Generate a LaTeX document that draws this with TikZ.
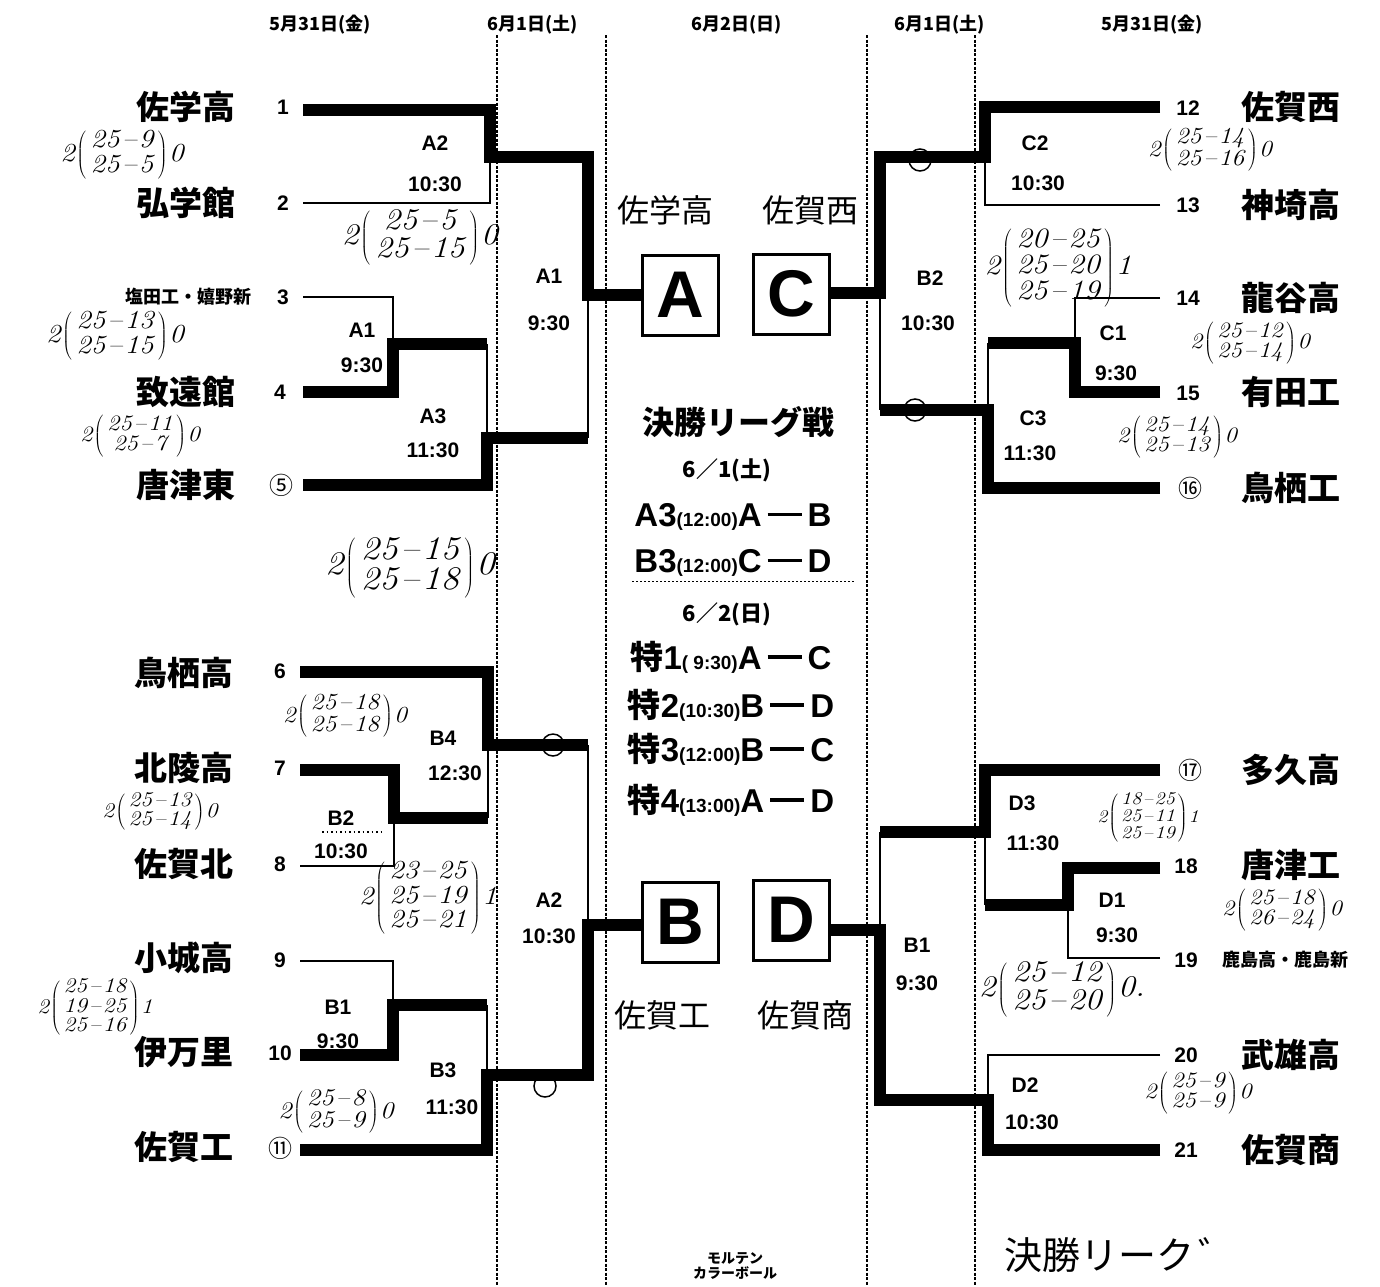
\documentclass[tikz,border=0pt]{standalone}
\usepackage{fontspec}
\newfontfamily\jp{Noto Sans CJK JP}
\newfontfamily\sans{Liberation Sans}
\newcommand\scorenote[3]{\scalebox{1.12}[1]{#1\hspace{0.05em}$\left(\begin{tabular}{@{\hspace{0.15em}}c@{\hspace{0.15em}}}#2\end{tabular}\right)$\hspace{0.05em}#3}}
\newcommand\sdash{\hspace{0.08em}--\hspace{0.08em}}
\newcommand\bigdash{\hspace{6pt}\rule[0.32em]{34pt}{3.5pt}\hspace{6pt}}
\renewcommand\arraystretch{0.9}
\tikzset{
 thinl/.style={line width=2.5pt},
 thickl/.style={line width=12pt},
 dashl/.style={line width=1.8pt, dash pattern=on 3pt off 1.5pt},
 team/.style={font=\jp\bfseries\fontsize{33}{33}\selectfont, inner sep=0pt},
 smallteam/.style={font=\jp\bfseries\fontsize{18}{18}\selectfont, inner sep=0pt},
 num/.style={font=\sans\bfseries\fontsize{21}{21}\selectfont, inner sep=0pt},
 cnum/.style={font=\jp\fontsize{24}{24}\selectfont, inner sep=0pt},
 lab/.style={font=\sans\bfseries\fontsize{21}{21}\selectfont, inner sep=0pt},
 hdr/.style={font=\jp\bfseries\fontsize{18}{18}\selectfont, inner sep=0pt},
 hand/.style={font=\itshape\fontsize{#1}{#1}\selectfont, inner sep=0pt},
 handjp/.style={font=\jp\fontsize{#1}{#1}\selectfont, inner sep=0pt},
 letterbox/.style={draw, line width=3pt, minimum width=76pt, minimum height=80pt, inner sep=0pt, font=\sans\bfseries\fontsize{66}{66}\selectfont},
 sched/.style={font=\sans\bfseries\fontsize{33}{33}\selectfont, inner sep=0pt},
 ttl/.style={font=\jp\bfseries\fontsize{32}{32}\selectfont, inner sep=0pt},
 ringmark/.style={line width=1.5pt},
}
\begin{document}
\begin{tikzpicture}[x=1pt,y=-1pt]
\useasboundingbox[fill=white] (0,0) rectangle (1380,1286);
% dashed day separators
\draw[dashl] (497,35) -- (497,1286);
\draw[dashl] (606,35) -- (606,1286);
\draw[dashl] (867,35) -- (867,1286);
\draw[dashl] (975,35) -- (975,1286);
% headers
\node[hdr] (h1) at (320,25) {5月31日(金)};
\node[hdr] (h2) at (533,25) {6月1日(土)};
\node[hdr] (h3) at (737,25) {6月2日(日)};
\node[hdr] (h4) at (940,25) {6月1日(土)};
\node[hdr] (h5) at (1152,25) {5月31日(金)};
% boxes
\node[letterbox] (boxA) at (680,295) {A};
\node[letterbox] (boxC) at (791,294) {C};
\node[letterbox] (boxB) at (680,922) {B};
\node[letterbox] (boxD) at (791,920) {D};
% coordinates: team line ends
\coordinate (t1) at (303,110);
\coordinate (t2) at (303,203);
\coordinate (t3) at (303,297);
\coordinate (t4) at (303,392);
\coordinate (t5) at (303,485);
\coordinate (t6) at (300,672);
\coordinate (t7) at (300,770);
\coordinate (t8) at (300,866);
\coordinate (t9) at (300,961);
\coordinate (t10) at (300,1055);
\coordinate (t11) at (300,1150);
\coordinate (t12) at (1160,107);
\coordinate (t13) at (1160,205);
\coordinate (t14) at (1160,298);
\coordinate (t15) at (1160,392);
\coordinate (t16) at (1160,488);
\coordinate (t17) at (1160,770);
\coordinate (t18) at (1160,868);
\coordinate (t19) at (1160,958);
\coordinate (t20) at (1160,1055);
\coordinate (t21) at (1160,1150);
% junctions
\coordinate (mA2) at (490,157);
\coordinate (mA1) at (393,344);
\coordinate (mA3) at (487,438);
\coordinate (fA) at (588,295);
\coordinate (mB4) at (488,745);
\coordinate (mB2) at (394,818);
\coordinate (mB1) at (393,1005);
\coordinate (mB3) at (487,1075);
\coordinate (fB) at (588,925);
\coordinate (mC2) at (985,157);
\coordinate (mC1) at (1075,343);
\coordinate (mC3) at (988,410);
\coordinate (fC) at (880,293);
\coordinate (mD3) at (985,832);
\coordinate (mD1) at (1068,905);
\coordinate (mD2) at (988,1100);
\coordinate (fD) at (880,930);
% left top block
\draw[thinl] (t2) -| (mA2);
\draw[thickl] (t1) -| (mA2) -| (fA) -- (fA -| boxA.west);
\draw[thinl] (t3) -| (mA1);
\draw[thickl] (t4) -| (mA1) -- (mA1 -| mA3);
\draw[thinl] (mA1 -| mA3) -- (mA3);
\draw[thickl] (t5) -| (mA3) -- (mA3 -| fA);
\draw[thinl] (mA3 -| fA) -- (fA);
% left bottom block
\draw[thickl] (t6) -| (mB4) -- (mB4 -| fB);
\draw[thinl] (mB4) -- (mB2 -| mB4);
\draw[thickl] (t7) -| (mB2) -- (mB2 -| mB4);
\draw[thinl] (t8) -| (mB2);
\draw[thinl] (mB4 -| fB) -- (fB);
\draw[thinl] (t9) -| (mB1);
\draw[thickl] (t10) -| (mB1) -- (mB1 -| mB3);
\draw[thinl] (mB1 -| mB3) -- (mB3);
\draw[thickl] (t11) -| (mB3) -| (fB) -- (fB -| boxB.west);
% right top block
\draw[thickl] (t12) -| (mC2) -| (fC) -- (fC -| boxC.east);
\draw[thinl] (t13) -| (mC2);
\draw[thinl] (fC) -- (mC3 -| fC);
\draw[thinl] (t14) -| (mC1);
\draw[thickl] (t15) -| (mC1) -- (mC1 -| mC3);
\draw[thinl] (mC1 -| mC3) -- (mC3);
\draw[thickl] (t16) -| (mC3) -- (mC3 -| fC);
% right bottom block
\draw[thickl] (t17) -| (mD3) -- (mD3 -| fD);
\draw[thinl] (mD3) -- (mD1 -| mD3);
\draw[thickl] (t18) -| (mD1) -- (mD1 -| mD3);
\draw[thinl] (t19) -| (mD1);
\draw[thinl] (mD3 -| fD) -- (fD);
\draw[thinl] (t20) -| (mD2);
\draw[thickl] (t21) -| (mD2) -| (fD) -- (fD -| boxD.east);
% handwritten rings
\draw[ringmark] (553,745) circle (11);
\draw[ringmark] (545,1086) circle (11);
\draw[ringmark] (920,160) circle (11);
\draw[ringmark] (915,410) circle (11);
% left team names
\node[team,anchor=east] (n1) at (236,107) {佐学高};
\node[team,anchor=east] (n2) at (236,203) {弘学館};
\node[smallteam,anchor=east] (n3) at (252,297) {塩田工・嬉野新};
\node[team,anchor=east] (n4) at (236,392) {致遠館};
\node[team,anchor=east] (n5) at (236,485) {唐津東};
\node[team,anchor=east] (n6) at (234,673) {鳥栖高};
\node[team,anchor=east] (n7) at (234,768) {北陵高};
\node[team,anchor=east] (n8) at (234,864) {佐賀北};
\node[team,anchor=east] (n9) at (234,958) {小城高};
\node[team,anchor=east] (n10) at (234,1052) {伊万里};
\node[team,anchor=east] (n11) at (234,1147) {佐賀工};
% left numbers
\node[num] (k1) at (283,107) {1};
\node[num] (k2) at (283,203) {2};
\node[num] (k3) at (283,297) {3};
\node[num] (k4) at (280,392) {4};
\node[cnum] (k5) at (281,485) {⑤};
\node[num] (k6) at (280,671) {6};
\node[num] (k7) at (280,768) {7};
\node[num] (k8) at (280,864) {8};
\node[num] (k9) at (280,960) {9};
\node[num] (k10) at (280,1053) {10};
\node[cnum] (k11) at (280,1148) {⑪};
% right team names
\node[team,anchor=west] (n12) at (1241,107) {佐賀西};
\node[team,anchor=west] (n13) at (1241,205) {神埼高};
\node[team,anchor=west] (n14) at (1241,298) {龍谷高};
\node[team,anchor=west] (n15) at (1241,392) {有田工};
\node[team,anchor=west] (n16) at (1241,488) {鳥栖工};
\node[team,anchor=west] (n17) at (1241,770) {多久高};
\node[team,anchor=west] (n18) at (1241,865) {唐津工};
\node[smallteam,anchor=west] (n19) at (1222,960) {鹿島高・鹿島新};
\node[team,anchor=west] (n20) at (1241,1055) {武雄高};
\node[team,anchor=west] (n21) at (1241,1150) {佐賀商};
% right numbers
\node[num] (k12) at (1188,108) {12};
\node[num] (k13) at (1188,205) {13};
\node[num] (k14) at (1188,298) {14};
\node[num] (k15) at (1188,393) {15};
\node[cnum] (k16) at (1190,488) {⑯};
\node[cnum] (k17) at (1190,770) {⑰};
\node[num] (k18) at (1186,866) {18};
\node[num] (k19) at (1186,960) {19};
\node[num] (k20) at (1186,1055) {20};
\node[num] (k21) at (1186,1150) {21};
% match labels left
\node[lab] (lA2) at (435,143) {A2};
\node[lab] (tA2) at (435,184) {10:30};
\node[lab] (lA1) at (362,330) {A1};
\node[lab] (tA1) at (362,365) {9:30};
\node[lab] (lA3) at (433,416) {A3};
\node[lab] (tA3) at (433,450) {11:30};
\node[lab] (lA1b) at (549,276) {A1};
\node[lab] (tA1b) at (549,323) {9:30};
\node[lab] (lB4) at (443,738) {B4};
\node[lab] (tB4) at (455,773) {12:30};
\node[lab] (lB2) at (341,818) {B2};
\draw[line width=1.5pt, dash pattern=on 1.5pt off 3pt] (322,832) -- (385,832);
\node[lab] (tB2) at (341,851) {10:30};
\node[lab] (lA2b) at (549,900) {A2};
\node[lab] (tA2b) at (549,936) {10:30};
\node[lab] (lB1) at (338,1007) {B1};
\node[lab] (tB1) at (338,1041) {9:30};
\node[lab] (lB3) at (443,1070) {B3};
\node[lab] (tB3) at (452,1107) {11:30};
% match labels right
\node[lab] (lC2) at (1035,143) {C2};
\node[lab] (tC2) at (1038,183) {10:30};
\node[lab] (lB2r) at (930,278) {B2};
\node[lab] (tB2r) at (928,323) {10:30};
\node[lab] (lC1) at (1113,333) {C1};
\node[lab] (tC1) at (1116,373) {9:30};
\node[lab] (lC3) at (1033,418) {C3};
\node[lab] (tC3) at (1030,453) {11:30};
\node[lab] (lD3) at (1022,803) {D3};
\node[lab] (tD3) at (1033,843) {11:30};
\node[lab] (lD1) at (1112,900) {D1};
\node[lab] (tD1) at (1117,935) {9:30};
\node[lab] (lB1r) at (917,945) {B1};
\node[lab] (tB1r) at (917,983) {9:30};
\node[lab] (lD2) at (1025,1085) {D2};
\node[lab] (tD2) at (1032,1122) {10:30};
% centre schedule
\node[ttl] (title) at (738,422) {決勝リーグ戦};
\node[font=\jp\bfseries\fontsize{22}{22}\selectfont, inner sep=0pt] (d1) at (727,470) {6／1(土)};
\node[sched] (q1) at (733,517) {A3{\fontsize{19}{19}\selectfont (12:00)}A\bigdash B};
\node[sched] (q2) at (733,563) {B3{\fontsize{19}{19}\selectfont (12:00)}C\bigdash D};
\draw[line width=1.5pt, dash pattern=on 2pt off 2pt] (q2.south west) ++(-2,5) -- ++(222,0);
\node[font=\jp\bfseries\fontsize{22}{22}\selectfont, inner sep=0pt] (d2) at (727,614) {6／2(日)};
\node[sched] (q3) at (731,657) {{\jp 特}1{\fontsize{19}{19}\selectfont( 9:30)}A\bigdash C};
\node[sched] (q4) at (731,705) {{\jp 特}2{\fontsize{19}{19}\selectfont(10:30)}B\bigdash D};
\node[sched] (q5) at (731,749) {{\jp 特}3{\fontsize{19}{19}\selectfont(12:00)}B\bigdash C};
\node[sched] (q6) at (731,800) {{\jp 特}4{\fontsize{19}{19}\selectfont(13:00)}A\bigdash D};
\node[font=\jp\bfseries\fontsize{14}{15}\selectfont, align=center, inner sep=0pt] (maker) at (735,1266) {モルテン\\カラーボール};
% handwritten winners
\node[handjp=32] (wA) at (665,210) {佐学高};
\node[handjp=32] (wC) at (810,210) {佐賀西};
\node[handjp=32] (wB) at (662,1015) {佐賀工};
\node[handjp=32] (wD) at (805,1015) {佐賀商};
\node[handjp=38] (wL) at (1120,1255) {決勝リーク\hspace{4pt}゛};
% handwritten scores
\node[hand=26] (s1) at (122,155) {\scorenote{2}{25\sdash 9\\25\sdash 5}{0}};
\node[hand=30] (s2) at (420,238) {\scorenote{2}{25\sdash 5\\25\sdash 15}{0}};
\node[hand=26] (s3) at (115,336) {\scorenote{2}{25\sdash 13\\25\sdash 15}{0}};
\node[hand=22] (s4) at (140,436) {\scorenote{2}{25\sdash 11\\25\sdash 7}{0}};
\node[hand=33] (s5) at (410,568) {\scorenote{2}{25\sdash 15\\25\sdash 18}{0}};
\node[hand=23] (s6) at (345,716) {\scorenote{2}{25\sdash 18\\25\sdash 18}{0}};
\node[hand=21] (s7) at (160,812) {\scorenote{2}{25\sdash 13\\25\sdash 14}{0}};
\node[hand=26] (s8) at (428,898) {\scorenote{2}{23\sdash 25\\25\sdash 19\\25\sdash 21}{1}};
\node[hand=21] (s9) at (95,1008) {\scorenote{2}{25\sdash 18\\19\sdash 25\\25\sdash 16}{1}};
\node[hand=24] (s10) at (336,1112) {\scorenote{2}{25\sdash 8\\25\sdash 9}{0}};
\node[hand=23] (s11) at (1210,150) {\scorenote{2}{25\sdash 14\\25\sdash 16}{0}};
\node[hand=28] (s12) at (1058,268) {\scorenote{2}{20\sdash 25\\25\sdash 20\\25\sdash 19}{1}};
\node[hand=22] (s13) at (1250,343) {\scorenote{2}{25\sdash 12\\25\sdash 14}{0}};
\node[hand=22] (s14) at (1177,437) {\scorenote{2}{25\sdash 14\\25\sdash 13}{0}};
\node[hand=18] (s15) at (1148,818) {\scorenote{2}{18\sdash 25\\25\sdash 11\\25\sdash 19}{1}};
\node[hand=22] (s16) at (1282,910) {\scorenote{2}{25\sdash 18\\26\sdash 24}{0}};
\node[hand=30] (s17) at (1062,990) {\scorenote{2}{25\sdash 12\\25\sdash 20}{0.}};
\node[hand=22] (s18) at (1198,1093) {\scorenote{2}{25\sdash 9\\25\sdash 9}{0}};
\end{tikzpicture}
\end{document}
